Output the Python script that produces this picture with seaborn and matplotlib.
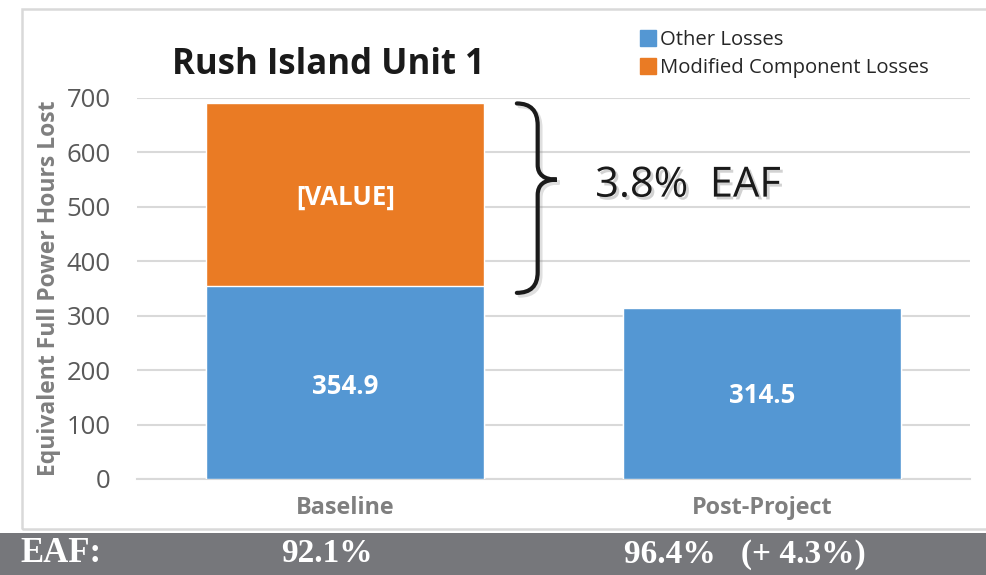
import matplotlib
matplotlib.use("Agg")
import matplotlib.pyplot as plt
import matplotlib.patheffects as pe
from matplotlib.patches import Rectangle, PathPatch
from matplotlib.path import Path
from matplotlib.lines import Line2D
import seaborn as sns
import pandas as pd

# ---- data ----
categories = ["Baseline", "Post-Project"]
other_losses = [354.9, 314.5]
modified_losses = [335.1, 0.0]
bar_labels_other = ["354.9", "314.5"]
bar_label_modified = "[VALUE]"
eaf_values = ["92.1%", "96.4%   (+ 4.3%)"]
yticks = [0, 100, 200, 300, 400, 500, 600, 700]

BLUE = "#5497D3"
ORANGE = "#EA7B24"
GRID = "#D9D9D9"
TICK = "#595959"
LABEL = "#7F7F7F"

sns.set_theme(style="white")
plt.rcParams["font.family"] = ["Open Sans", "DejaVu Sans"]

df = pd.DataFrame({
    "cat": categories,
    "other": other_losses,
    "total": [o + m for o, m in zip(other_losses, modified_losses)],
})

fig = plt.figure(figsize=(9.87, 5.75), dpi=100)
fig.patch.set_facecolor("white")

# outer frame and bottom band
fig.add_artist(Rectangle((22 / 987, 46 / 575), 1.0, 520 / 575, transform=fig.transFigure,
                         fill=False, edgecolor=GRID, lw=1.8, zorder=0))
fig.add_artist(Rectangle((0, 0), 1, 42 / 575, transform=fig.transFigure,
                         facecolor="#76777B", edgecolor="none", zorder=1))

ax = fig.add_axes([137 / 987, 1 - 479 / 575, (970 - 137) / 987, (479 - 98) / 575])
ax.set_facecolor("none")

sns.barplot(data=df, x="cat", y="total", color=ORANGE, width=0.667, ax=ax,
            saturation=1, zorder=3)
sns.barplot(data=df, x="cat", y="other", color=BLUE, width=0.667, ax=ax,
            saturation=1, zorder=4)

ax.set_ylim(0, 700)
ax.set_xlim(-0.5, 1.5)
ax.set_yticks(yticks)
ax.yaxis.grid(True, color=GRID, lw=1.5, zorder=0)
ax.set_axisbelow(True)
for s in ["top", "right", "left"]:
    ax.spines[s].set_visible(False)
ax.spines["bottom"].set_color(GRID)
ax.spines["bottom"].set_linewidth(1.5)
ax.tick_params(axis="both", length=0)
ax.tick_params(axis="y", labelsize=18.5, labelcolor=TICK, pad=19)
ax.tick_params(axis="x", labelsize=16.8, labelcolor=LABEL, pad=12)
for lbl in ax.get_xticklabels():
    lbl.set_fontweight("bold")
ax.set_xlabel("")
ax.set_ylabel("Equivalent Full Power Hours Lost", fontsize=16.5, fontweight="bold",
              color=LABEL, labelpad=4)

# bar labels
for i, (v, txt) in enumerate(zip(other_losses, bar_labels_other)):
    ax.text(i, v / 2 - (8 if i == 0 else 3), txt,
            ha="center", va="center", color="white", fontsize=18.5, fontweight="bold", zorder=6)
ax.text(0, other_losses[0] + modified_losses[0] * 0.5 - 4, bar_label_modified, ha="center",
        va="center", color="white", fontsize=18.5, fontweight="bold", zorder=6)

# brace
top = other_losses[0] + modified_losses[0]
bot = 342
tip = 550
xl, xm, xt = 0.412, 0.462, 0.508
verts = [(xl, top), (xm, top), (xm, top - 40), (xm, tip + 27), (xm, tip), (xt, tip),
         (xm, tip), (xm, tip - 28), (xm, bot + 38), (xm, bot), (xl, bot)]
codes = [Path.MOVETO, Path.CURVE3, Path.CURVE3, Path.LINETO, Path.CURVE3, Path.CURVE3,
         Path.CURVE3, Path.CURVE3, Path.LINETO, Path.CURVE3, Path.CURVE3]
brace = PathPatch(Path(verts, codes), fill=False, edgecolor="#1a1a1a", lw=3, zorder=7,
                  capstyle="round",
                  path_effects=[pe.SimpleLineShadow(offset=(2, -2), alpha=0.25, shadow_color="gray"),
                                pe.Normal()])
ax.add_patch(brace)

ax.text(0.60, tip - 11, "3.8%  EAF", ha="left", va="center", fontsize=30, color="#1a1a1a",
        zorder=7,
        path_effects=[pe.withSimplePatchShadow(offset=(2, -2), shadow_rgbFace="gray", alpha=0.35)])

# title
fig.text(328 / 987, 1 - 65 / 575, "Rush Island Unit 1", ha="center", va="center",
         fontsize=25, fontweight="bold", color="#1a1a1a")

# legend
handles = [Line2D([], [], marker="s", ls="none", markersize=12, color=BLUE),
           Line2D([], [], marker="s", ls="none", markersize=12, color=ORANGE)]
fig.legend(handles, ["Other Losses", "Modified Component Losses"], loc="upper left",
           bbox_to_anchor=(628 / 987, 1 - 20 / 575), frameon=False, fontsize=14.6,
           handletextpad=0.1, labelspacing=0.38, borderpad=0, handlelength=1.0,
           labelcolor="#262626")

# bottom band text
yb = 1 - 554 / 575
band_font = dict(family=["Liberation Serif", "DejaVu Serif"], fontweight="bold",
                 color="white", va="center", ha="center")
fig.text(61 / 987, yb, "EAF:", fontsize=25, **band_font)
fig.text(327 / 987, yb, eaf_values[0], fontsize=24, **band_font)
fig.text(745 / 987, yb, eaf_values[1], fontsize=24, **band_font)

fig.savefig("out.png", dpi=100, facecolor="white")
